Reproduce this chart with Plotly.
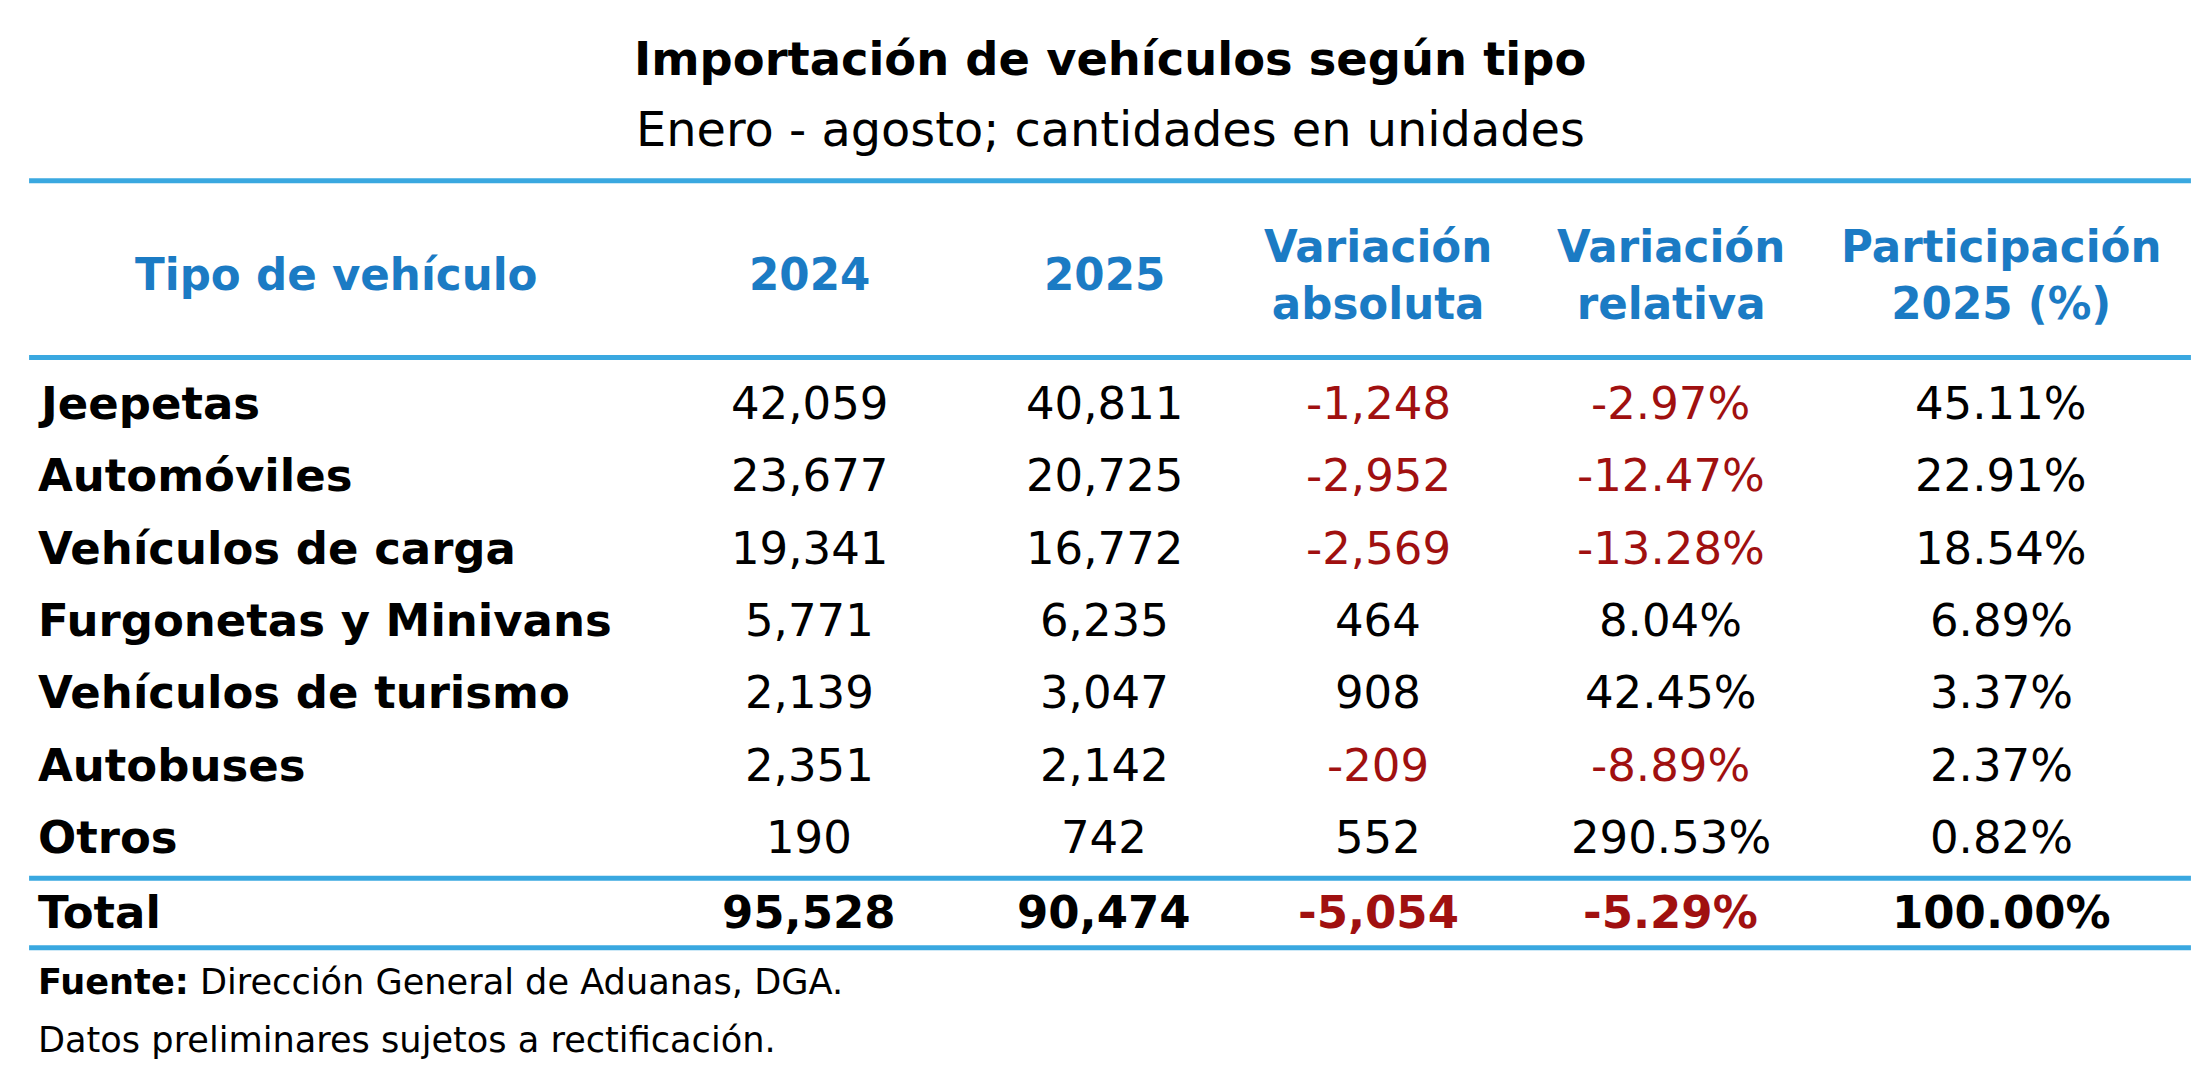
import plotly.graph_objects as go

tipos = ["Jeepetas", "Automóviles", "Vehículos de carga", "Furgonetas y Minivans",
         "Vehículos de turismo", "Autobuses", "Otros"]
v2024 = ["42,059", "23,677", "19,341", "5,771", "2,139", "2,351", "190"]
v2025 = ["40,811", "20,725", "16,772", "6,235", "3,047", "2,142", "742"]
var_abs = ["-1,248", "-2,952", "-2,569", "464", "908", "-209", "552"]
var_rel = ["-2.97%", "-12.47%", "-13.28%", "8.04%", "42.45%", "-8.89%", "290.53%"]
part = ["45.11%", "22.91%", "18.54%", "6.89%", "3.37%", "2.37%", "0.82%"]
total = ["Total", "95,528", "90,474", "-5,054", "-5.29%", "100.00%"]
headers = ["Tipo de vehículo", "2024", "2025", "Variación<br>absoluta", "Variación<br>relativa", "Participación<br>2025 (%)"]

W, H = 1568, 758
FONT = "DejaVu Sans"
BLUE = "#1b7bc4"
LINE = "#3aa8e0"
RED = "#a01010"

def px(x): return x / W
def py(y): return 1 - (y * 0.99 - 1) / H

ann = []
def add(text, x, y, size=32, color="black", bold=False, xanchor="center"):
    if bold:
        text = "<b>" + text.replace("<br>", "</b><br><b>") + "</b>"
    ann.append(dict(text=text, x=px(x), y=py(y), xref="paper", yref="paper",
                    xanchor=xanchor, yanchor="middle", showarrow=False,
                    font=dict(family=FONT, size=size * 1.406, color=color), align="center"))

add("Importación de vehículos según tipo", 784, 38, size=33, bold=True)
add("Enero - agosto; cantidades en unidades", 784, 88, size=34)

cols = [20, 570, 780, 975, 1183, 1418]
for i, h in enumerate(headers):
    if i == 0:
        add(h, 234, 193, size=31, color=BLUE, bold=True)
    else:
        add(h, cols[i], 193, size=31, color=BLUE, bold=True)

for r in range(len(tipos)):
    y = 285 + 52 * r
    add(tipos[r], cols[0], y, bold=True, xanchor="left")
    add(v2024[r], cols[1], y)
    add(v2025[r], cols[2], y)
    add(var_abs[r], cols[3], y, color=RED if var_abs[r].startswith("-") else "black")
    add(var_rel[r], cols[4], y, color=RED if var_rel[r].startswith("-") else "black")
    add(part[r], cols[5], y)

for i, t in enumerate(total):
    c = RED if t.startswith("-") else "black"
    add(t, cols[i], 651, bold=True, color=c, xanchor="left" if i == 0 else "center")

add("<b>Fuente:</b> Dirección General de Aduanas, DGA.", 20, 700, size=25, xanchor="left")
add("Datos preliminares sujetos a rectificación.", 20, 742, size=25, xanchor="left")

shapes = []
for y in [125, 252, 626, 676]:
    shapes.append(dict(type="line", xref="paper", yref="paper", x0=px(15), x1=px(1553),
                       y0=py(y), y1=py(y), line=dict(color=LINE, width=5)))

fig = go.Figure()
fig.update_layout(width=2204, height=1066, margin=dict(l=0, r=0, t=0, b=0),
                  paper_bgcolor="white", plot_bgcolor="white",
                  xaxis=dict(visible=False), yaxis=dict(visible=False),
                  annotations=ann, shapes=shapes)
fig.write_html("out.html")
